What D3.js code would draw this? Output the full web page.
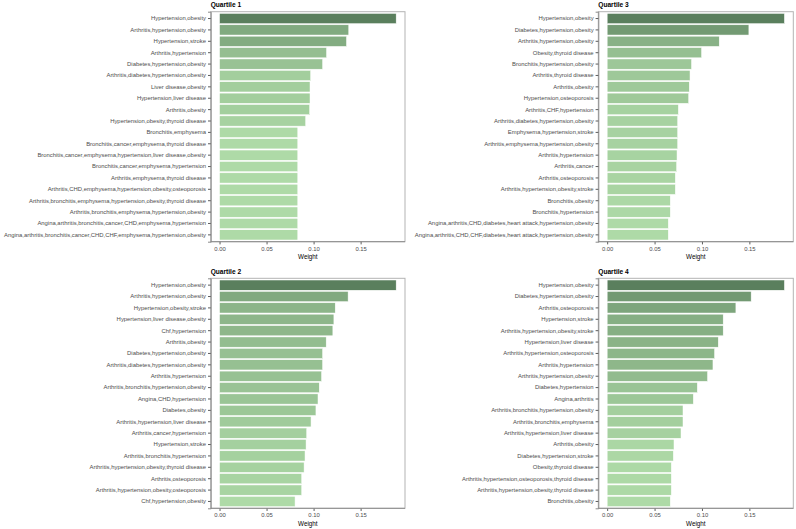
<!DOCTYPE html>
<html>
<head>
<meta charset="utf-8">
<script src="https://cdn.jsdelivr.net/npm/d3@7"></script>
<style>
  html, body { margin: 0; padding: 0; background: #fff; }
  svg { display: block; }
</style>
</head>
<body>
<div id="chart"></div>
<script>
const titles = ["Quartile 1", "Quartile 2", "Quartile 3", "Quartile 4"];

const q1Labels = ["Hypertension,obesity", "Arthritis,hypertension,obesity", "Hypertension,stroke", "Arthritis,hypertension", "Diabetes,hypertension,obesity", "Arthritis,diabetes,hypertension,obesity", "Liver disease,obesity", "Hypertension,liver disease", "Arthritis,obesity", "Hypertension,obesity,thyroid disease", "Bronchitis,emphysema", "Bronchitis,cancer,emphysema,thyroid disease", "Bronchitis,cancer,emphysema,hypertension,liver disease,obesity", "Bronchitis,cancer,emphysema,hypertension", "Arthritis,emphysema,thyroid disease", "Arthritis,CHD,emphysema,hypertension,obesity,osteoporosis", "Arthritis,bronchitis,emphysema,hypertension,obesity,thyroid disease", "Arthritis,bronchitis,emphysema,hypertension,obesity", "Angina,arthritis,bronchitis,cancer,CHD,emphysema,hypertension", "Angina,arthritis,bronchitis,cancer,CHD,CHF,emphysema,hypertension,obesity"];
const q1Values = [0.1878, 0.1374, 0.1350, 0.1138, 0.1096, 0.0969, 0.0962, 0.0962, 0.0958, 0.0916, 0.0832, 0.0832, 0.0832, 0.0832, 0.0832, 0.0832, 0.0832, 0.0832, 0.0832, 0.0832];

const q2Labels = ["Hypertension,obesity", "Arthritis,hypertension,obesity", "Hypertension,obesity,stroke", "Hypertension,liver disease,obesity", "Chf,hypertension", "Arthritis,obesity", "Diabetes,hypertension,obesity", "Arthritis,diabetes,hypertension,obesity", "Arthritis,hypertension", "Arthritis,bronchitis,hypertension,obesity", "Angina,CHD,hypertension", "Diabetes,obesity", "Arthritis,hypertension,liver disease", "Arthritis,cancer,hypertension", "Hypertension,stroke", "Arthritis,bronchitis,hypertension", "Arthritis,hypertension,obesity,thyroid disease", "Arthritis,osteoporosis", "Arthritis,hypertension,obesity,osteoporosis", "Chf,hypertension,obesity"];
const q2Values = [0.1878, 0.1367, 0.1230, 0.1216, 0.1205, 0.1134, 0.1096, 0.1096, 0.1085, 0.1060, 0.1047, 0.1025, 0.0973, 0.0927, 0.0920, 0.0909, 0.0899, 0.0874, 0.0874, 0.0803];

const q3Labels = ["Hypertension,obesity", "Diabetes,hypertension,obesity", "Arthritis,hypertension,obesity", "Obesity,thyroid disease", "Bronchitis,hypertension,obesity", "Arthritis,thyroid disease", "Arthritis,obesity", "Hypertension,osteoporosis", "Arthritis,CHF,hypertension", "Arthritis,diabetes,hypertension,obesity", "Emphysema,hypertension,stroke", "Arthritis,emphysema,hypertension,obesity", "Arthritis,hypertension", "Arthritis,cancer", "Arthritis,osteoporosis", "Arthritis,hypertension,obesity,stroke", "Bronchitis,obesity", "Bronchitis,hypertension", "Angina,arthritis,CHD,diabetes,heart attack,hypertension,obesity", "Angina,arthritis,CHD,CHF,diabetes,heart attack,hypertension,obesity"];
const q3Values = [0.1870, 0.1495, 0.1182, 0.0996, 0.0890, 0.0874, 0.0866, 0.0860, 0.0751, 0.0744, 0.0744, 0.0744, 0.0737, 0.0733, 0.0719, 0.0719, 0.0666, 0.0666, 0.0645, 0.0645];

const q4Labels = ["Hypertension,obesity", "Diabetes,hypertension,obesity", "Arthritis,osteoporosis", "Hypertension,stroke", "Arthritis,hypertension,obesity,stroke", "Hypertension,liver disease", "Arthritis,hypertension,osteoporosis", "Arthritis,hypertension", "Arthritis,hypertension,obesity", "Diabetes,hypertension", "Angina,arthritis", "Arthritis,bronchitis,hypertension,obesity", "Arthritis,bronchitis,emphysema", "Arthritis,hypertension,liver disease", "Arthritis,obesity", "Diabetes,hypertension,stroke", "Obesity,thyroid disease", "Arthritis,hypertension,osteoporosis,thyroid disease", "Arthritis,hypertension,obesity,thyroid disease", "Bronchitis,obesity"];
const q4Values = [0.1870, 0.1519, 0.1358, 0.1224, 0.1224, 0.1172, 0.1133, 0.1116, 0.1059, 0.0951, 0.0909, 0.0800, 0.0800, 0.0779, 0.0705, 0.0698, 0.0677, 0.0677, 0.0677, 0.0666];

const xTicks = [0.00, 0.05, 0.10, 0.15];
const xTitle = "Weight";

const W = 796, H = 529;
const FONT = "'Liberation Sans', Arial, Helvetica, sans-serif";
const lowColor = "#aedaa7", highColor = "#5a7f5d";

const panels = [
  { title: titles[0], labels: q1Labels, values: q1Values, x0: 210.7, x1: 405.0, y0: 11.7, y1: 241.7 },
  { title: titles[1], labels: q2Labels, values: q2Values, x0: 210.7, x1: 405.0, y0: 278.3, y1: 508.3 },
  { title: titles[2], labels: q3Labels, values: q3Values, x0: 598.3, x1: 793.3, y0: 11.7, y1: 241.7 },
  { title: titles[3], labels: q4Labels, values: q4Values, x0: 598.3, x1: 793.3, y0: 278.3, y1: 508.3 }
];

const svg = d3.select("#chart").append("svg")
  .attr("width", W).attr("height", H)
  .attr("font-family", FONT);

panels.forEach(p => {
  const data = p.labels.map((l, i) => ({ label: l, value: p.values[i] }));
  const vmax = d3.max(p.values), vmin = d3.min(p.values);
  const x = d3.scaleLinear().domain([-0.05 * vmax, 1.05 * vmax]).range([p.x0, p.x1]);
  const y = d3.scaleBand().domain(p.labels).range([p.y0, p.y1]).paddingInner(0.1).paddingOuter(0.15);
  const color = d3.scaleLinear().domain([vmin, vmax]).range([lowColor, highColor]).interpolate(d3.interpolateLab);

  const g = svg.append("g");

  // bars
  g.selectAll("rect.bar").data(data).join("rect")
    .attr("class", "bar")
    .attr("x", x(0))
    .attr("y", d => y(d.label))
    .attr("width", d => x(d.value) - x(0))
    .attr("height", y.bandwidth())
    .attr("fill", d => color(d.value))
    .attr("stroke", "#ffffff")
    .attr("stroke-width", 0.5);

  // panel border
  g.append("rect")
    .attr("x", p.x0).attr("y", p.y0)
    .attr("width", p.x1 - p.x0).attr("height", p.y1 - p.y0)
    .attr("fill", "none").attr("stroke", "#b3b3b3").attr("stroke-width", 1);

  // y axis
  const ya = g.append("g").attr("transform", `translate(${p.x0},0)`)
    .call(d3.axisLeft(y).tickSize(2.7).tickPadding(2));
  ya.select(".domain").attr("stroke", "#8c8c8c").attr("stroke-width", 1);
  ya.selectAll(".tick line").attr("stroke", "#333333").attr("stroke-width", 0.8);
  ya.selectAll(".tick text").attr("fill", "#4d4d4d").attr("font-size", 5.9).attr("font-family", FONT);

  // x axis
  const xa = g.append("g").attr("transform", `translate(0,${p.y1})`)
    .call(d3.axisBottom(x).tickValues(xTicks).tickFormat(d3.format(".2f")).tickSize(2.7).tickPadding(2));
  xa.select(".domain").remove();
  g.append("line").attr("x1", p.x0).attr("x2", p.x1).attr("y1", p.y1).attr("y2", p.y1)
    .attr("stroke", "#8c8c8c").attr("stroke-width", 1);
  xa.selectAll(".tick line").attr("stroke", "#333333").attr("stroke-width", 0.8);
  xa.selectAll(".tick text").attr("fill", "#4d4d4d").attr("font-size", 5.9).attr("font-family", FONT);

  // x title
  g.append("text")
    .attr("x", (p.x0 + p.x1) / 2).attr("y", p.y1 + 17.5)
    .attr("text-anchor", "middle").attr("font-size", 6.3).attr("fill", "#000")
    .text(xTitle);

  // panel title
  g.append("text")
    .attr("x", p.x0).attr("y", p.y0 - 4.6)
    .attr("font-size", 6.6).attr("font-weight", "bold").attr("fill", "#000")
    .text(p.title);
});
</script>
</body>
</html>
